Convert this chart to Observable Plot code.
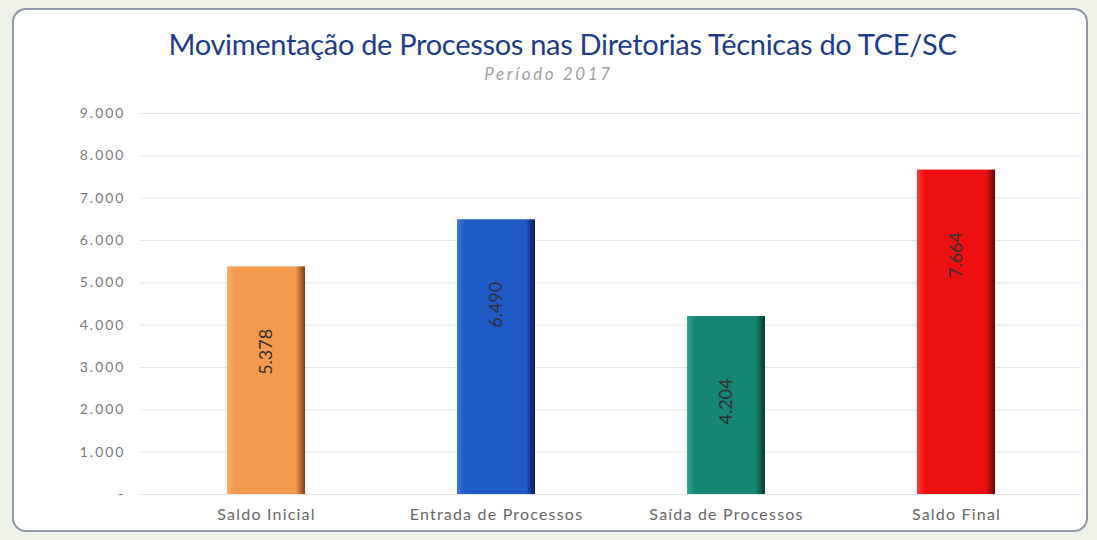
<!DOCTYPE html>
<html><head><meta charset="utf-8">
<script src="https://cdn.jsdelivr.net/npm/d3@7"></script>
<script src="https://cdn.jsdelivr.net/npm/@observablehq/plot@0.6"></script>
<style>
html,body{margin:0;padding:0;}
body{width:1097px;height:540px;background:#edf1e8;position:relative;overflow:hidden;font-family:Lato,"Open Sans",sans-serif;}
#frame{position:absolute;left:12px;top:8px;width:1076px;height:524px;box-sizing:border-box;border:2px solid #8f96a8;border-radius:14px;background:#fff;}
#title{position:absolute;left:14px;width:1097px;top:26px;text-align:center;font-size:29px;color:#1d3c8c;letter-spacing:-0.3px;white-space:nowrap;}
#subtitle{position:absolute;left:0;width:1097px;top:63px;text-align:center;font-style:italic;font-size:17px;color:#a0a0a0;letter-spacing:2.6px;}
#chart{position:absolute;left:0;top:0;}
</style>
</head><body>
<div id="frame"></div>
<div id="title">Movimentação de Processos nas Diretorias Técnicas do TCE/SC</div>
<div id="subtitle">Período 2017</div>
<div id="chart"></div>
<script>
const categories = ["Saldo Inicial", "Entrada de Processos", "Saída de Processos", "Saldo Final"];
const values = [5378, 6490, 4204, 7664];
const yTicks = [0, 1000, 2000, 3000, 4000, 5000, 6000, 7000, 8000, 9000];
const palette = [
  ["#f8ae6c", "#f39a4f", "#7a3f12"],
  ["#3a78dc", "#1f5bc6", "#0a1f5a"],
  ["#2aa58f", "#168572", "#06382f"],
  ["#ff3a3a", "#ee1010", "#6a0606"]
];

const data = categories.map((c, i) => ({cat: c, value: values[i]}));
const fmt = d3.formatLocale({decimal: ",", thousands: ".", grouping: [3], currency: ["R$", ""]}).format(",d");

const chart = Plot.plot({
  width: 1097, height: 540,
  marginTop: 113, marginBottom: 46, marginLeft: 140, marginRight: 16,
  style: {background: "transparent", fontFamily: "Lato, 'Open Sans', sans-serif"},
  x: {domain: categories, paddingInner: 0.662, paddingOuter: 0.368, label: null},
  y: {domain: [0, 9000], label: null},
  color: {domain: categories, range: categories.map((c, i) => `url(#grad${i})`)},
  marks: [
    Plot.gridY(yTicks, {stroke: "#e6e6e6", strokeOpacity: 1}),
    Plot.axisY(yTicks, {tickSize: 0, tickPadding: 15, tickFormat: d => d === 0 ? "-" : fmt(d), fill: "#7a7a7a", fontSize: 14, label: null}),
    Plot.axisX({tickSize: 0, tickPadding: 14, fill: "#666", fontSize: 16, label: null}),
    Plot.barY(data, {x: "cat", y: "value", fill: "cat"}),
    Plot.text(data, {x: "cat", y: "value", text: d => fmt(d.value), rotate: -90, dy: 85, fontSize: 18, fill: "#333"})
  ]
});

const svg = d3.select(chart);
svg.selectAll("g[aria-label='y-axis tick label'] text").style("letter-spacing", "2px");
svg.selectAll("g[aria-label='x-axis tick label'] text").style("letter-spacing", "1.2px");
const defs = svg.insert("defs", ":first-child");
palette.forEach((p, i) => {
  const g = defs.append("linearGradient").attr("id", `grad${i}`).attr("x1", "0").attr("x2", "1").attr("y1", "0").attr("y2", "0");
  g.append("stop").attr("offset", "0").attr("stop-color", p[0]);
  g.append("stop").attr("offset", "0.1").attr("stop-color", p[1]);
  g.append("stop").attr("offset", "0.88").attr("stop-color", p[1]);
  g.append("stop").attr("offset", "1").attr("stop-color", p[2]);
});
document.getElementById("chart").appendChild(chart);
</script>
</body></html>
